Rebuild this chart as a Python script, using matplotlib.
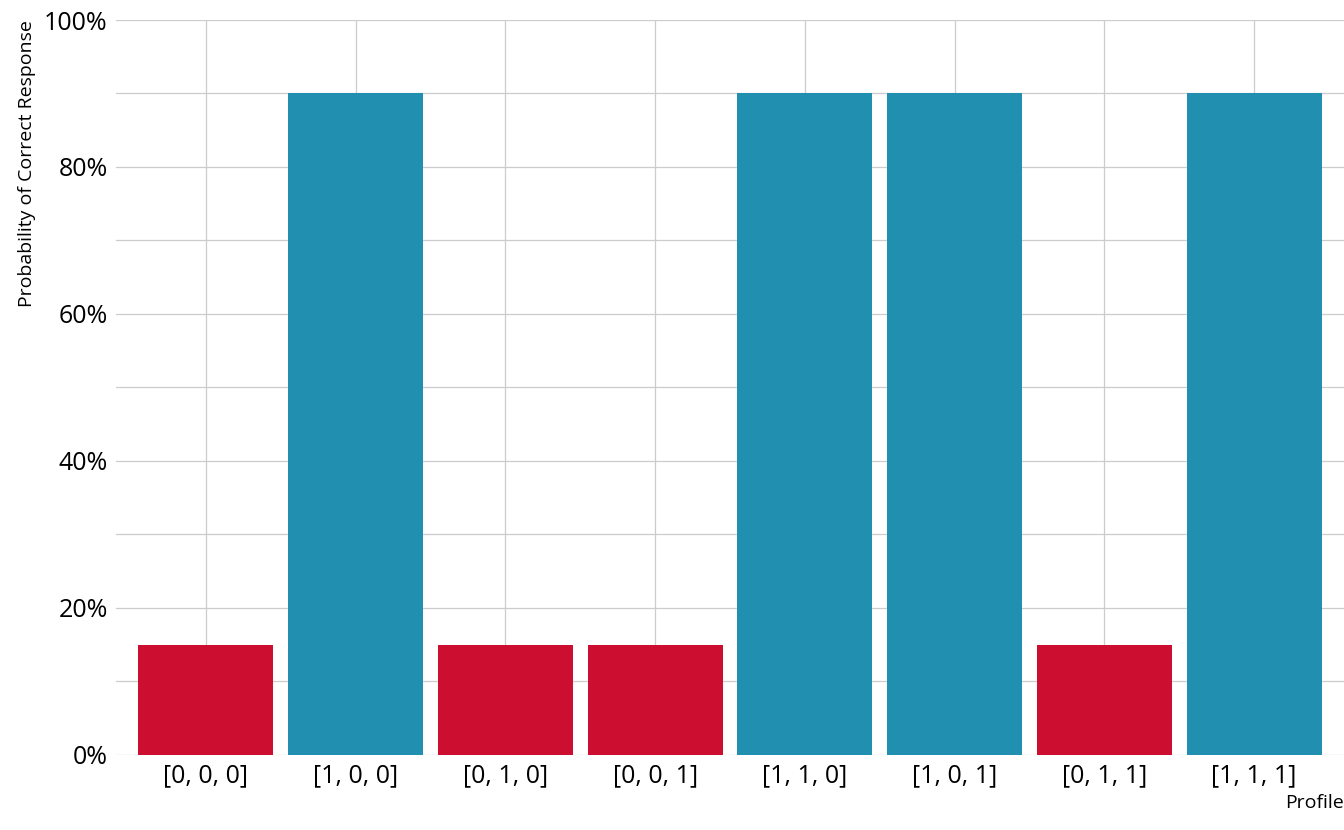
import matplotlib
matplotlib.use("Agg")
import matplotlib.pyplot as plt
from matplotlib.ticker import PercentFormatter, MultipleLocator

profiles = ["[0, 0, 0]", "[1, 0, 0]", "[0, 1, 0]", "[0, 0, 1]",
            "[1, 1, 0]", "[1, 0, 1]", "[0, 1, 1]", "[1, 1, 1]"]
probs = [0.15, 0.90, 0.15, 0.15, 0.90, 0.90, 0.15, 0.90]
mastery = [False, True, False, False, True, True, False, True]

plt.rcParams['font.family'] = ['Open Sans', 'DejaVu Sans']
fig = plt.figure(figsize=(13.44, 8.30), dpi=100)
ax = fig.add_axes([0.0863, 0.0904, 0.9137, 0.8855])
colors = ["#218FB0" if m else "#CC0E30" for m in mastery]
x = list(range(len(profiles)))
ax.bar(x, probs, width=0.9, color=colors, zorder=3)
ax.set_xlim(-0.6, len(profiles) - 0.4)
ax.set_ylim(0, 1)
ax.yaxis.set_major_locator(MultipleLocator(0.2))
ax.yaxis.set_minor_locator(MultipleLocator(0.1))
ax.yaxis.set_major_formatter(PercentFormatter(1.0, decimals=0))
ax.set_xticks(x)
ax.set_xticklabels(profiles)
ax.grid(True, which='major', color='#CCCCCC', lw=0.9, zorder=0)
ax.grid(True, which='minor', axis='y', color='#CCCCCC', lw=0.9, zorder=0)
for s in ax.spines.values():
    s.set_visible(False)
ax.tick_params(axis='both', which='both', length=0, labelsize=18, colors='black', pad=6)
ax.set_ylabel("Probability of Correct Response", fontsize=14, loc='top', labelpad=6)
ax.set_xlabel("Profile", fontsize=14, loc='right', labelpad=4)
fig.savefig("out.png", dpi=100)
